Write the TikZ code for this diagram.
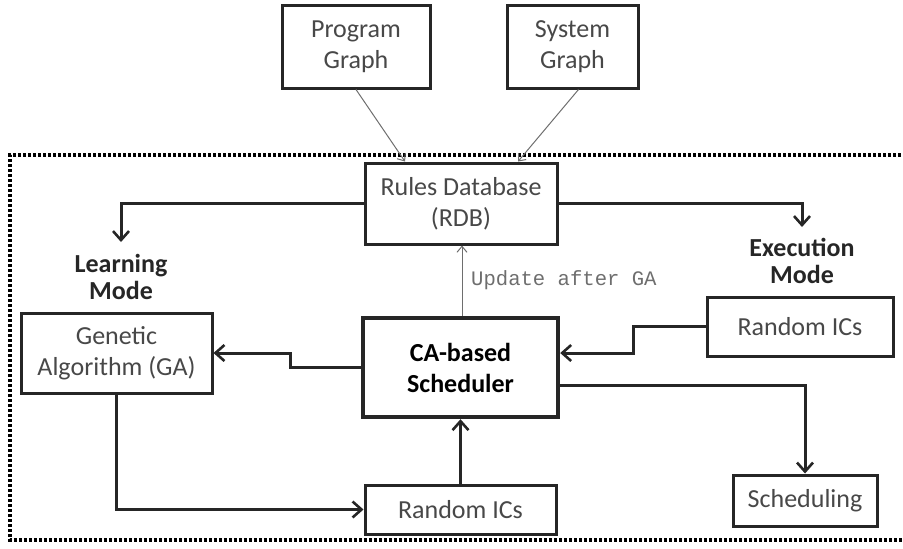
\documentclass[tikz,border=0pt]{standalone}
\usepackage{fontspec}
\setmainfont{Carlito}
\setmonofont{Liberation Mono}
\usepackage{xcolor}
\usetikzlibrary{arrows.meta, calc}
\definecolor{boxT}{RGB}{72,72,72}
\definecolor{lineG}{RGB}{110,110,110}
\tikzset{
  blk/.style={draw=black!85, line width=1.5pt, fill=white, align=center, text=boxT,
    font=\fontsize{13}{15.5}\selectfont, inner sep=0pt},
  cabox/.style={blk, line width=2.2pt, text=black, font=\fontsize{13}{15.5}\selectfont\bfseries},
  arr/.style={line width=1.5pt, black!85, -{Straight Barb[length=4.5pt,width=8pt,line width=1.3pt]}},
  thinarr/.style={line width=0.5pt, lineG, -{Straight Barb[length=3pt,width=5pt]}},
  modelbl/.style={align=center, font=\fontsize{13}{13.5}\selectfont\bfseries, text=black!85, inner sep=0pt}}

\begin{document}
\begin{tikzpicture}[x=0.5pt, y=-0.5pt]
\useasboundingbox (0,0) rectangle (903,548);
% dotted frame, open on the right (cut off by the page edge)
\draw[black, line width=1.7pt, dash pattern=on 1.6pt off 0.9pt] (906,155) -- (10,155) -- (10,540) -- (906,540);
% inputs above the frame
\node[blk, minimum width=74pt, minimum height=41.5pt] (pg) at (356,46.5) {Program\\Graph};
\node[blk, minimum width=65.5pt, minimum height=41.5pt] (sg) at (572.5,46.5) {System\\Graph};
% core blocks
\node[blk, minimum width=96pt, minimum height=40.5pt] (rdb) at (461,203.5) {Rules Database\\(RDB)};
\node[blk, minimum width=95.5pt, minimum height=40pt] (ga) at (116.5,353) {Genetic\\Algorithm (GA)};
\node[cabox, minimum width=97.5pt, minimum height=49.5pt] (ca) at (460.5,367.5) {CA-based\\Scheduler};
\node[blk, minimum width=93pt, minimum height=29.5pt] (icR) at (800,326.5) {Random ICs};
\node[blk, minimum width=95.5pt, minimum height=24.5pt] (icB) at (460.5,509.5) {Random ICs};
\node[blk, minimum width=72pt, minimum height=25.5pt] (sched) at (805,500.5) {Scheduling};
% mode labels
\node[modelbl] (learn) at (121,277) {Learning\\Mode};
\node[modelbl] (exec) at (802,261) {Execution\\Mode};
\coordinate (learnT) at (121,242);
\coordinate (execT) at (802,227);
% graph inputs into the RDB
\draw[thinarr] (pg.south) -- ($(rdb.north)+(-56,0)$);
\draw[thinarr] ($(sg.south)+(6,0)$) -- ($(rdb.north)+(57,0)$);
% RDB feeds both modes
\draw[arr] (rdb.west) -| (learnT);
\draw[arr] (rdb.east) -| (execT);
% update path, scheduler -> RDB
\draw[thinarr] ($(ca.north)+(1.5,0)$) -- node[right, font=\fontsize{10.3}{11}\ttfamily, text=lineG, pos=0.5, xshift=1pt] {Update after GA} ($(rdb.south)+(1,0)$);
% learning loop
\draw[arr] (ca.west) -| (290,353) -- (ga.east);
\draw[arr] (ga.south) |- (icB.west);
\draw[arr] (icB.north) -- (ca.south);
% execution path
\draw[arr] (icR.west) -| (633,353) -- (ca.east |- 633,353);
\draw[arr] (ca.east |- 0,385) -| (sched.north);
\end{tikzpicture}
\end{document}
